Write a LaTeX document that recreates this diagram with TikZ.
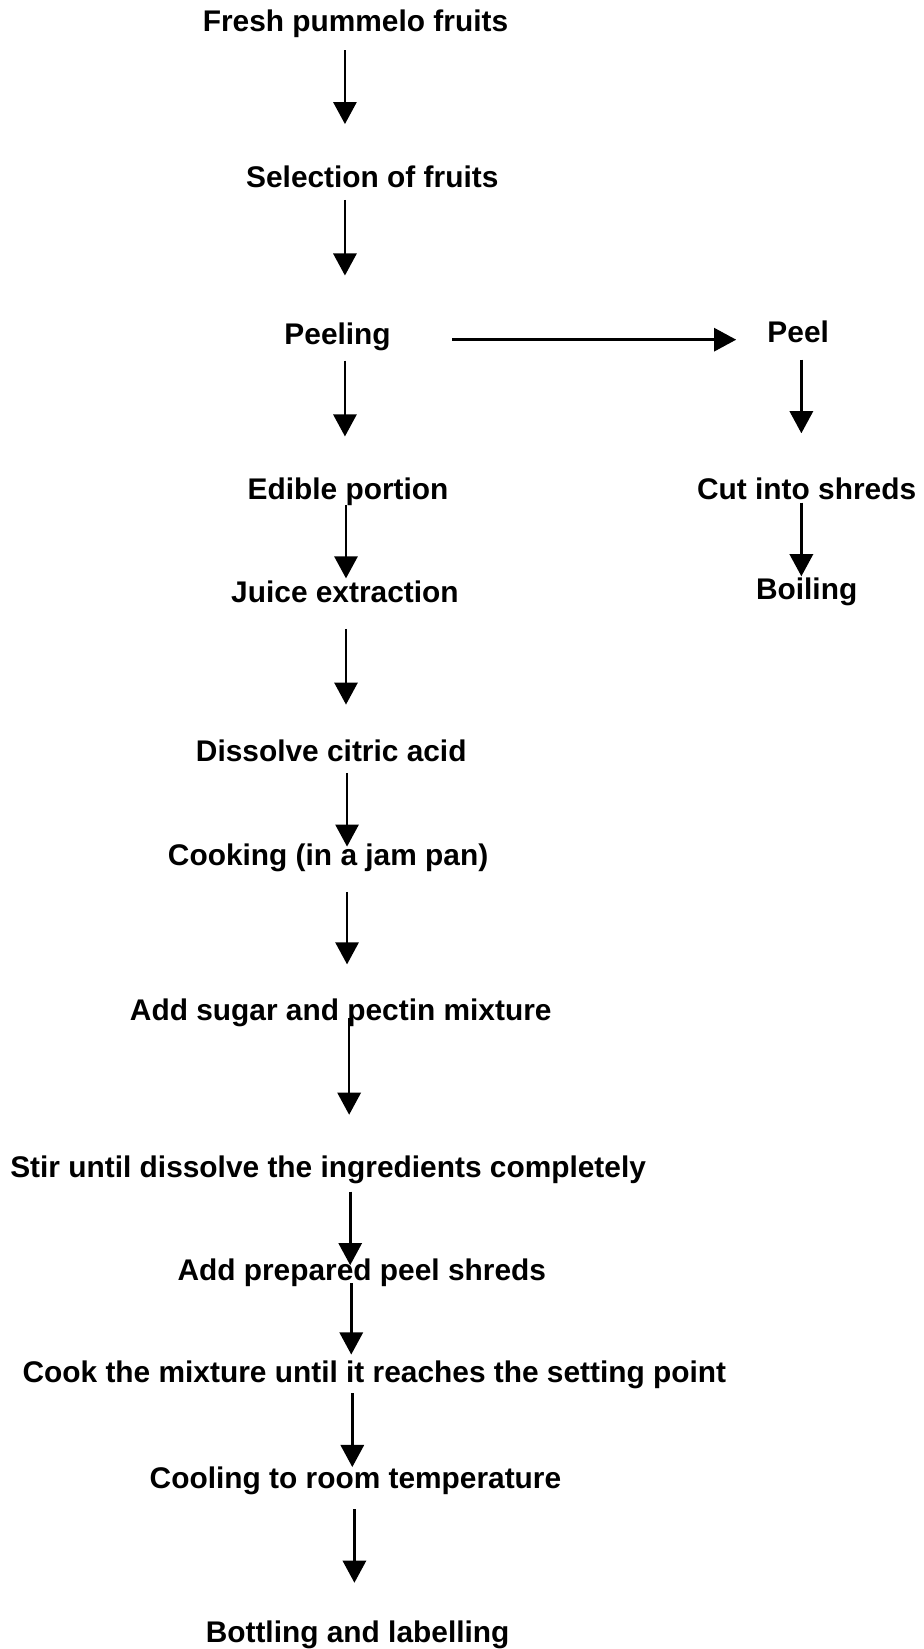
\documentclass[tikz,border=0pt]{standalone}
\usepackage{fontspec}
\setmainfont{Liberation Sans}
\usetikzlibrary{arrows.meta}
\tikzset{
  step label/.style={font=\bfseries\fontsize{28.4}{34}\selectfont,inner sep=0pt,anchor=base},
  flow arrow/.style={line width=2.5pt,-{Triangle[length=21pt,width=22pt]}},
}

\begin{document}
\begin{tikzpicture}[x=1pt,y=-1pt]
\useasboundingbox (0,0) rectangle (878,1568);
% main line
\node[step label] (fresh) at (338,30) {Fresh pummelo fruits};
\node[step label] (select) at (354,178) {Selection of fruits};
\node[step label] (peeling) at (321,328) {Peeling};
\node[step label] (edible) at (331,475) {Edible portion};
\node[step label] (juice) at (328,573) {Juice extraction};
\node[step label] (citric) at (315,724) {Dissolve citric acid};
\node[step label] (cooking) at (312,823) {Cooking (in a jam pan)};
\node[step label] (sugar) at (324,970) {Add sugar and pectin mixture};
\node[step label] (stir) at (312,1120) {Stir until dissolve the ingredients completely};
\node[step label] (shreds) at (344,1218) {Add prepared peel shreds};
\node[step label] (setting) at (356,1315) {Cook the mixture until it reaches the setting point};
\node[step label] (cooling) at (338,1415) {Cooling to room temperature};
\node[step label] (bottling) at (340,1562) {Bottling and labelling};
% peel line
\node[step label] (peel) at (759,326) {Peel};
\node[step label] (cut) at (767,475) {Cut into shreds};
\node[step label] (boiling) at (767,570) {Boiling};
% arrows
\foreach \n/\x/\ya/\yb in {1/328/48/118, 2/328/190/262, 3/328/343/415, 4/329/480/550,
  5/329/598/670, 6/330/735/805, 7/330/848/917, 8/332/968/1060, 9/333/1133/1203,
  10/334/1220/1288, 11/335/1325/1395, 12/337/1435/1505, 13/762/342/412, 14/762/478/548} {
  \coordinate (top\n) at (\x,\ya);
  \coordinate (tip\n) at (\x,\yb);
  \draw[flow arrow] (top\n) -- (tip\n);
}
\coordinate (out) at (430,323);
\coordinate (in) at (700,323);
\draw[flow arrow] (out) -- (in);
\end{tikzpicture}
\end{document}
